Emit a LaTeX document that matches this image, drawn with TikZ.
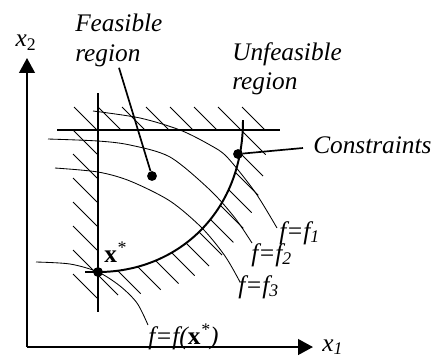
\documentclass[tikz,border=0pt]{standalone}
\usepackage{fontspec}
\setmainfont{Liberation Serif}
\usetikzlibrary{calc, arrows.meta, intersections}

\tikzset{
    lbl/.style={font=\fontsize{18}{20.8}\selectfont\itshape, inner sep=0pt, align=left},
    axis/.style={line width=1.5pt, -{Triangle[length=10.5pt,width=11pt]}},
    bound/.style={line width=1.4pt},
    contour/.style={line width=0.6pt},
    hatch/.style={line width=0.6pt},
    leader/.style={line width=1.2pt},
    spot/.style={circle, fill, inner sep=0pt, minimum size=7pt}
}

\begin{document}
\begin{tikzpicture}[x=0.025cm, y=-0.025cm]
    \useasboundingbox (0,0) rectangle (438,358);

    % Axes
    \coordinate (O) at (27,347);
    \coordinate (X1end) at (313,347);
    \coordinate (X2end) at (27,58);
    \draw[axis] (O) -- (X1end);
    \draw[axis] (O) -- (X2end);
    \node[lbl, anchor=base west] (X1) at (322,351) {x\textsubscript{1}};
    \node[lbl, anchor=base] (X2) at (26,46.5) {x\textsubscript{\upshape 2}};

    % Points on the constraints and inside the feasible region
    \node[spot] (Xstar) at (98,272) {};
    \node[spot] (Fdot) at (152,176) {};
    \node[spot] (Cdot) at (238,154) {};

    % Objective contours f = const
    \draw[contour] plot[smooth] coordinates {(93,111) (140,118) (180,130) (210,145) (227,157) (255,192) (277,228)};
    \draw[contour] plot[smooth] coordinates {(48,139) (98,141) (130,145) (170,157) (210,190) (235,218) (252,243)};
    \draw[contour] plot[smooth] coordinates {(55,168) (98,172) (130,181) (170,201) (202,228) (225,256) (240,282)};
    \draw[contour] plot[smooth] coordinates {(36,262) (70,264) (Xstar.center) (120,286) (137,303) (148,325)};

    % Constraint boundaries
    \draw[bound] (57,130) -- (280,130);
    \draw[bound] (98,93) -- (98,312);
    \draw[bound, name path=cons] (85,272) -- (Xstar.center) .. controls (175,272) and (243,215) .. (243,120);

    % Hatching on the unfeasible side
    \foreach \k in {0,...,7}{
        \pgfmathsetmacro{\c}{-33+24*\k}
        \draw[hatch] (\c+107,107) -- (\c+130,130);
    }
    \foreach \k in {-7,...,-1}{
        \pgfmathsetmacro{\ya}{73-(-33+24*\k)}
        \draw[hatch] (73,\ya) -- (97,\ya+24);
    }
    \foreach \k in {-6,...,6}{
        \pgfmathsetmacro{\c}{-33+24*\k}
        \path[name path=ray] (\c+40,40) -- (\c+340,340);
        \draw[hatch, name intersections={of=cons and ray}] (intersection-1) -- ++(23,23);
    }

    % Labels
    \node[lbl, anchor=north west] (Feas) at (75,14) {Feasible\\region};
    \node[lbl, anchor=north west] (Unfeas) at (232,42.5) {Unfeasible\\region};
    \node[lbl, anchor=base west] (Cons) at (313,153) {Constraints};
    \draw[leader] ($(Feas.south west)+(44,1)$) -- (Fdot);
    \draw[leader] (Cdot) -- ($(Cons.base west)+(-10,-5)$);

    \node[lbl, anchor=base west] (Xlbl) at (104,262) {\textbf{\upshape x}\textsuperscript{*}};
    \node[lbl, anchor=base west] (F1) at (279,239) {f=f\textsubscript{1}};
    \node[lbl, anchor=base west] (F2) at (251,261) {f=f\textsubscript{2}};
    \node[lbl, anchor=base west] (F3) at (238,293) {f=f\textsubscript{3}};
    \node[lbl, anchor=base west] (Fstar) at (148,344) {f=f(\textbf{\upshape x}\textsuperscript{*})};
\end{tikzpicture}
\end{document}
